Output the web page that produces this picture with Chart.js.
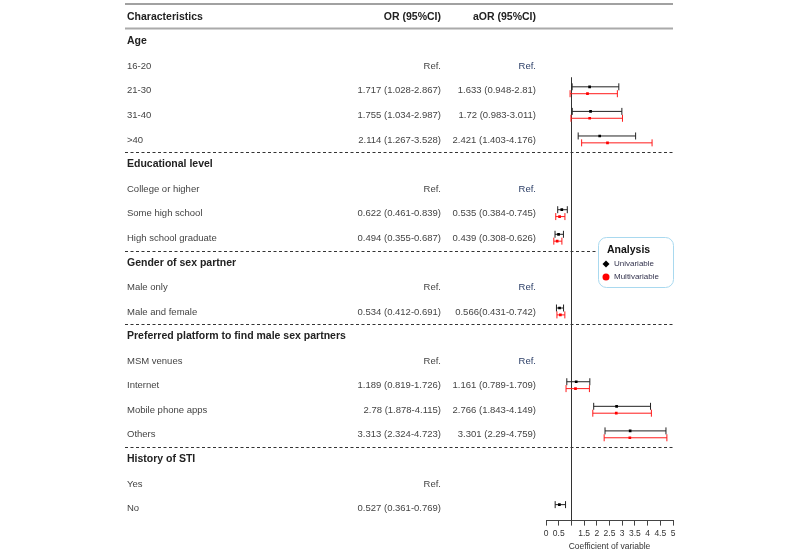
<!DOCTYPE html>
<html>
<head>
<meta charset="utf-8">
<script src="https://cdn.jsdelivr.net/npm/chart.js@4.4.0/dist/chart.umd.min.js"></script>
<style>
html, body { margin: 0; padding: 0; background: #fff; }
#wrap { width: 800px; height: 557px; }
</style>
</head>
<body>
<div id="wrap"><canvas id="forest"></canvas></div>
<script>
// rows of the table, row 0 is the header
const rowLabels = ['Age', '16-20', '21-30', '31-40', '>40',
    'Educational level', 'College or higher', 'Some high school', 'High school graduate',
    'Gender of sex partner', 'Male only', 'Male and female',
    'Preferred platform to find male sex partners', 'MSM venues', 'Internet', 'Mobile phone apps', 'Others',
    'History of STI', 'Yes', 'No'];
const groupRows = [1, 6, 10, 13, 18];
const orText = ['', 'Ref.', '1.717 (1.028-2.867)', '1.755 (1.034-2.987)', '2.114 (1.267-3.528)',
    '', 'Ref.', '0.622 (0.461-0.839)', '0.494 (0.355-0.687)',
    '', 'Ref.', '0.534 (0.412-0.691)',
    '', 'Ref.', '1.189 (0.819-1.726)', '2.78 (1.878-4.115)', '3.313 (2.324-4.723)',
    '', 'Ref.', '0.527 (0.361-0.769)'];
const aorText = ['', 'Ref.', '1.633 (0.948-2.81)', '1.72 (0.983-3.011)', '2.421 (1.403-4.176)',
    '', 'Ref.', '0.535 (0.384-0.745)', '0.439 (0.308-0.626)',
    '', 'Ref.', '0.566(0.431-0.742)',
    '', 'Ref.', '1.161 (0.789-1.709)', '2.766 (1.843-4.149)', '3.301 (2.29-4.759)',
    '', '', ''];

const orVal  = [null, null, 1.717, 1.755, 2.114, null, null, 0.622, 0.494, null, null, 0.534, null, null, 1.189, 2.78, 3.313, null, null, 0.527];
const orLow  = [null, null, 1.028, 1.034, 1.267, null, null, 0.461, 0.355, null, null, 0.412, null, null, 0.819, 1.878, 2.324, null, null, 0.361];
const orHigh = [null, null, 2.867, 2.987, 3.528, null, null, 0.839, 0.687, null, null, 0.691, null, null, 1.726, 4.115, 4.723, null, null, 0.769];
const aorVal  = [null, null, 1.633, 1.72, 2.421, null, null, 0.535, 0.439, null, null, 0.566, null, null, 1.161, 2.766, 3.301, null, null, null];
const aorLow  = [null, null, 0.948, 0.983, 1.403, null, null, 0.384, 0.308, null, null, 0.431, null, null, 0.789, 1.843, 2.29, null, null, null];
const aorHigh = [null, null, 2.81, 3.011, 4.176, null, null, 0.745, 0.626, null, null, 0.742, null, null, 1.709, 4.149, 4.759, null, null, null];

const xTicks = [0, 0.5, 1, 1.5, 2, 2.5, 3, 3.5, 4, 4.5, 5];
const hiddenTicks = [1];
const dashAfter = [5, 9, 12, 17];

const uniOff = -0.16;   // row units
const multiOff = 0.12;
const tableLeft = 125;
const textLeft = 127;
const orRight = 441;
const aorRight = 536;
const FONT = '"Liberation Sans", Arial, sans-serif';

const toPoints = (vals, off) => {
    let pts = [];
    vals.forEach((v, i) => {
        if (v !== null) pts.push({x: v, y: i + 1 + off});
    });
    return pts;
};

const forestPlugin = {
    id: 'forest',
    beforeDatasetsDraw(chart) {
        const {ctx, chartArea, scales: {x, y}} = chart;
        const right = chartArea.right;
        ctx.save();

        // top rule and header rule
        ctx.strokeStyle = '#444';
        ctx.lineWidth = 1.2;
        ctx.beginPath();
        ctx.moveTo(tableLeft, y.getPixelForValue(-0.53));
        ctx.lineTo(right, y.getPixelForValue(-0.53));
        ctx.stroke();
        ctx.strokeStyle = '#aaa';
        ctx.lineWidth = 2;
        ctx.beginPath();
        ctx.moveTo(tableLeft, y.getPixelForValue(0.47));
        ctx.lineTo(right, y.getPixelForValue(0.47));
        ctx.stroke();

        // dashed group separators
        ctx.strokeStyle = '#333';
        ctx.lineWidth = 1;
        ctx.setLineDash([3, 2.5]);
        dashAfter.forEach(r => {
            const yy = Math.round(y.getPixelForValue(r + 0.5)) + 0.5;
            ctx.beginPath();
            ctx.moveTo(tableLeft, yy);
            ctx.lineTo(right, yy);
            ctx.stroke();
        });
        ctx.setLineDash([]);

        // header text
        ctx.textBaseline = 'middle';
        ctx.fillStyle = '#222';
        ctx.font = 'bold 10.5px ' + FONT;
        const y0 = y.getPixelForValue(0);
        ctx.textAlign = 'left';
        ctx.fillText('Characteristics', textLeft, y0);
        ctx.textAlign = 'right';
        ctx.fillText('OR (95%CI)', orRight, y0);
        ctx.fillText('aOR (95%CI)', aorRight, y0);

        // table body
        rowLabels.forEach((lab, i) => {
            const yy = y.getPixelForValue(i + 1);
            ctx.textAlign = 'left';
            if (groupRows.includes(i + 1)) {
                ctx.fillStyle = '#222';
                ctx.font = 'bold 10.5px ' + FONT;
            } else {
                ctx.fillStyle = '#444';
                ctx.font = '9.5px ' + FONT;
            }
            ctx.fillText(lab, textLeft, yy);
            ctx.font = '9.5px ' + FONT;
            ctx.textAlign = 'right';
            ctx.fillStyle = '#444';
            ctx.fillText(orText[i], orRight, yy);
            ctx.fillStyle = aorText[i] === 'Ref.' ? '#2a3d66' : '#444';
            ctx.fillText(aorText[i], aorRight, yy);
        });

        // reference line at 1
        const x1 = Math.round(x.getPixelForValue(1)) + 0.5;
        ctx.strokeStyle = '#333';
        ctx.lineWidth = 1;
        ctx.beginPath();
        ctx.moveTo(x1, y.getPixelForValue(2.45));
        ctx.lineTo(x1, chartArea.bottom);
        ctx.stroke();

        // error bars
        const drawBar = (lo, hi, row, color) => {
            const xa = x.getPixelForValue(lo), xb = x.getPixelForValue(hi);
            const yy = y.getPixelForValue(row);
            ctx.strokeStyle = color;
            ctx.lineWidth = 1;
            ctx.beginPath();
            ctx.moveTo(xa, yy); ctx.lineTo(xb, yy);
            ctx.moveTo(xa, yy - 3.5); ctx.lineTo(xa, yy + 3.5);
            ctx.moveTo(xb, yy - 3.5); ctx.lineTo(xb, yy + 3.5);
            ctx.stroke();
        };
        orVal.forEach((v, i) => {
            if (v !== null) drawBar(orLow[i], orHigh[i], i + 1 + uniOff, '#222');
        });
        aorVal.forEach((v, i) => {
            if (v !== null) drawBar(aorLow[i], aorHigh[i], i + 1 + multiOff, '#ff1a1a');
        });
        ctx.restore();
    },
    afterDraw(chart) {
        const {ctx} = chart;
        ctx.save();
        const bx = 598, by = 237, bw = 75, bh = 50, r = 8;
        ctx.fillStyle = '#fff';
        ctx.strokeStyle = '#a9d9ef';
        ctx.lineWidth = 1;
        ctx.beginPath();
        ctx.roundRect(bx + 0.5, by + 0.5, bw, bh, r);
        ctx.fill();
        ctx.stroke();

        ctx.textBaseline = 'middle';
        ctx.textAlign = 'left';
        ctx.fillStyle = '#111';
        ctx.font = 'bold 10.5px ' + FONT;
        ctx.fillText('Analysis', 607, 250);

        chart.data.datasets.forEach((ds, k) => {
            const yy = 264 + k * 13;
            ctx.fillStyle = ds.backgroundColor;
            ctx.beginPath();
            if (k === 0) {
                ctx.moveTo(606, yy - 3.5); ctx.lineTo(609.5, yy); ctx.lineTo(606, yy + 3.5); ctx.lineTo(602.5, yy);
                ctx.closePath();
            } else {
                ctx.arc(606, yy, 3.5, 0, Math.PI * 2);
            }
            ctx.fill();
            ctx.fillStyle = '#33334d';
            ctx.font = '8px ' + FONT;
            ctx.fillText(ds.label, 614, yy);
        });
        ctx.restore();
    }
};

const ctx = document.getElementById('forest');
new Chart(ctx, {
    type: 'scatter',
    data: {
        datasets: [{
                label: 'Univariable',
                data: toPoints(orVal, uniOff),
                backgroundColor: '#000',
                borderColor: '#000',
                pointStyle: 'rect',
                pointRadius: 1.9,
                borderWidth: 0
            }, {
                label: 'Multivariable',
                data: toPoints(aorVal, multiOff),
                backgroundColor: '#ff0000',
                borderColor: '#ff0000',
                pointStyle: 'rect',
                pointRadius: 1.9,
                borderWidth: 0
            }]
    },
    options: {
        animation: false,
        responsive: true,
        maintainAspectRatio: false,
        layout: {
            padding: {left: 546, right: 127, top: 4, bottom: 5}
        },
        scales: {
            x: {
                type: 'linear',
                min: 0,
                max: 5,
                afterBuildTicks: (axis) => {
                    axis.ticks = xTicks.map(v => ({value: v}));
                },
                ticks: {
                    autoSkip: false,
                    maxRotation: 0,
                    padding: 3,
                    color: '#333',
                    font: {size: 8.5, family: FONT},
                    callback: (v) => hiddenTicks.includes(v) ? '' : v
                },
                grid: {
                    drawOnChartArea: false,
                    drawTicks: true,
                    tickLength: 5,
                    color: '#444'
                },
                border: {color: '#444'},
                title: {
                    display: true,
                    text: 'Coefficient of variable',
                    color: '#333',
                    font: {size: 8.5, family: FONT},
                    padding: {top: 0, bottom: 0}
                }
            },
            y: {
                type: 'linear',
                reverse: true,
                min: -0.53,
                max: 20.49,
                display: false
            }
        },
        plugins: {
            legend: {display: false},
            tooltip: {enabled: false}
        }
    },
    plugins: [forestPlugin]
});
</script>
</body>
</html>
